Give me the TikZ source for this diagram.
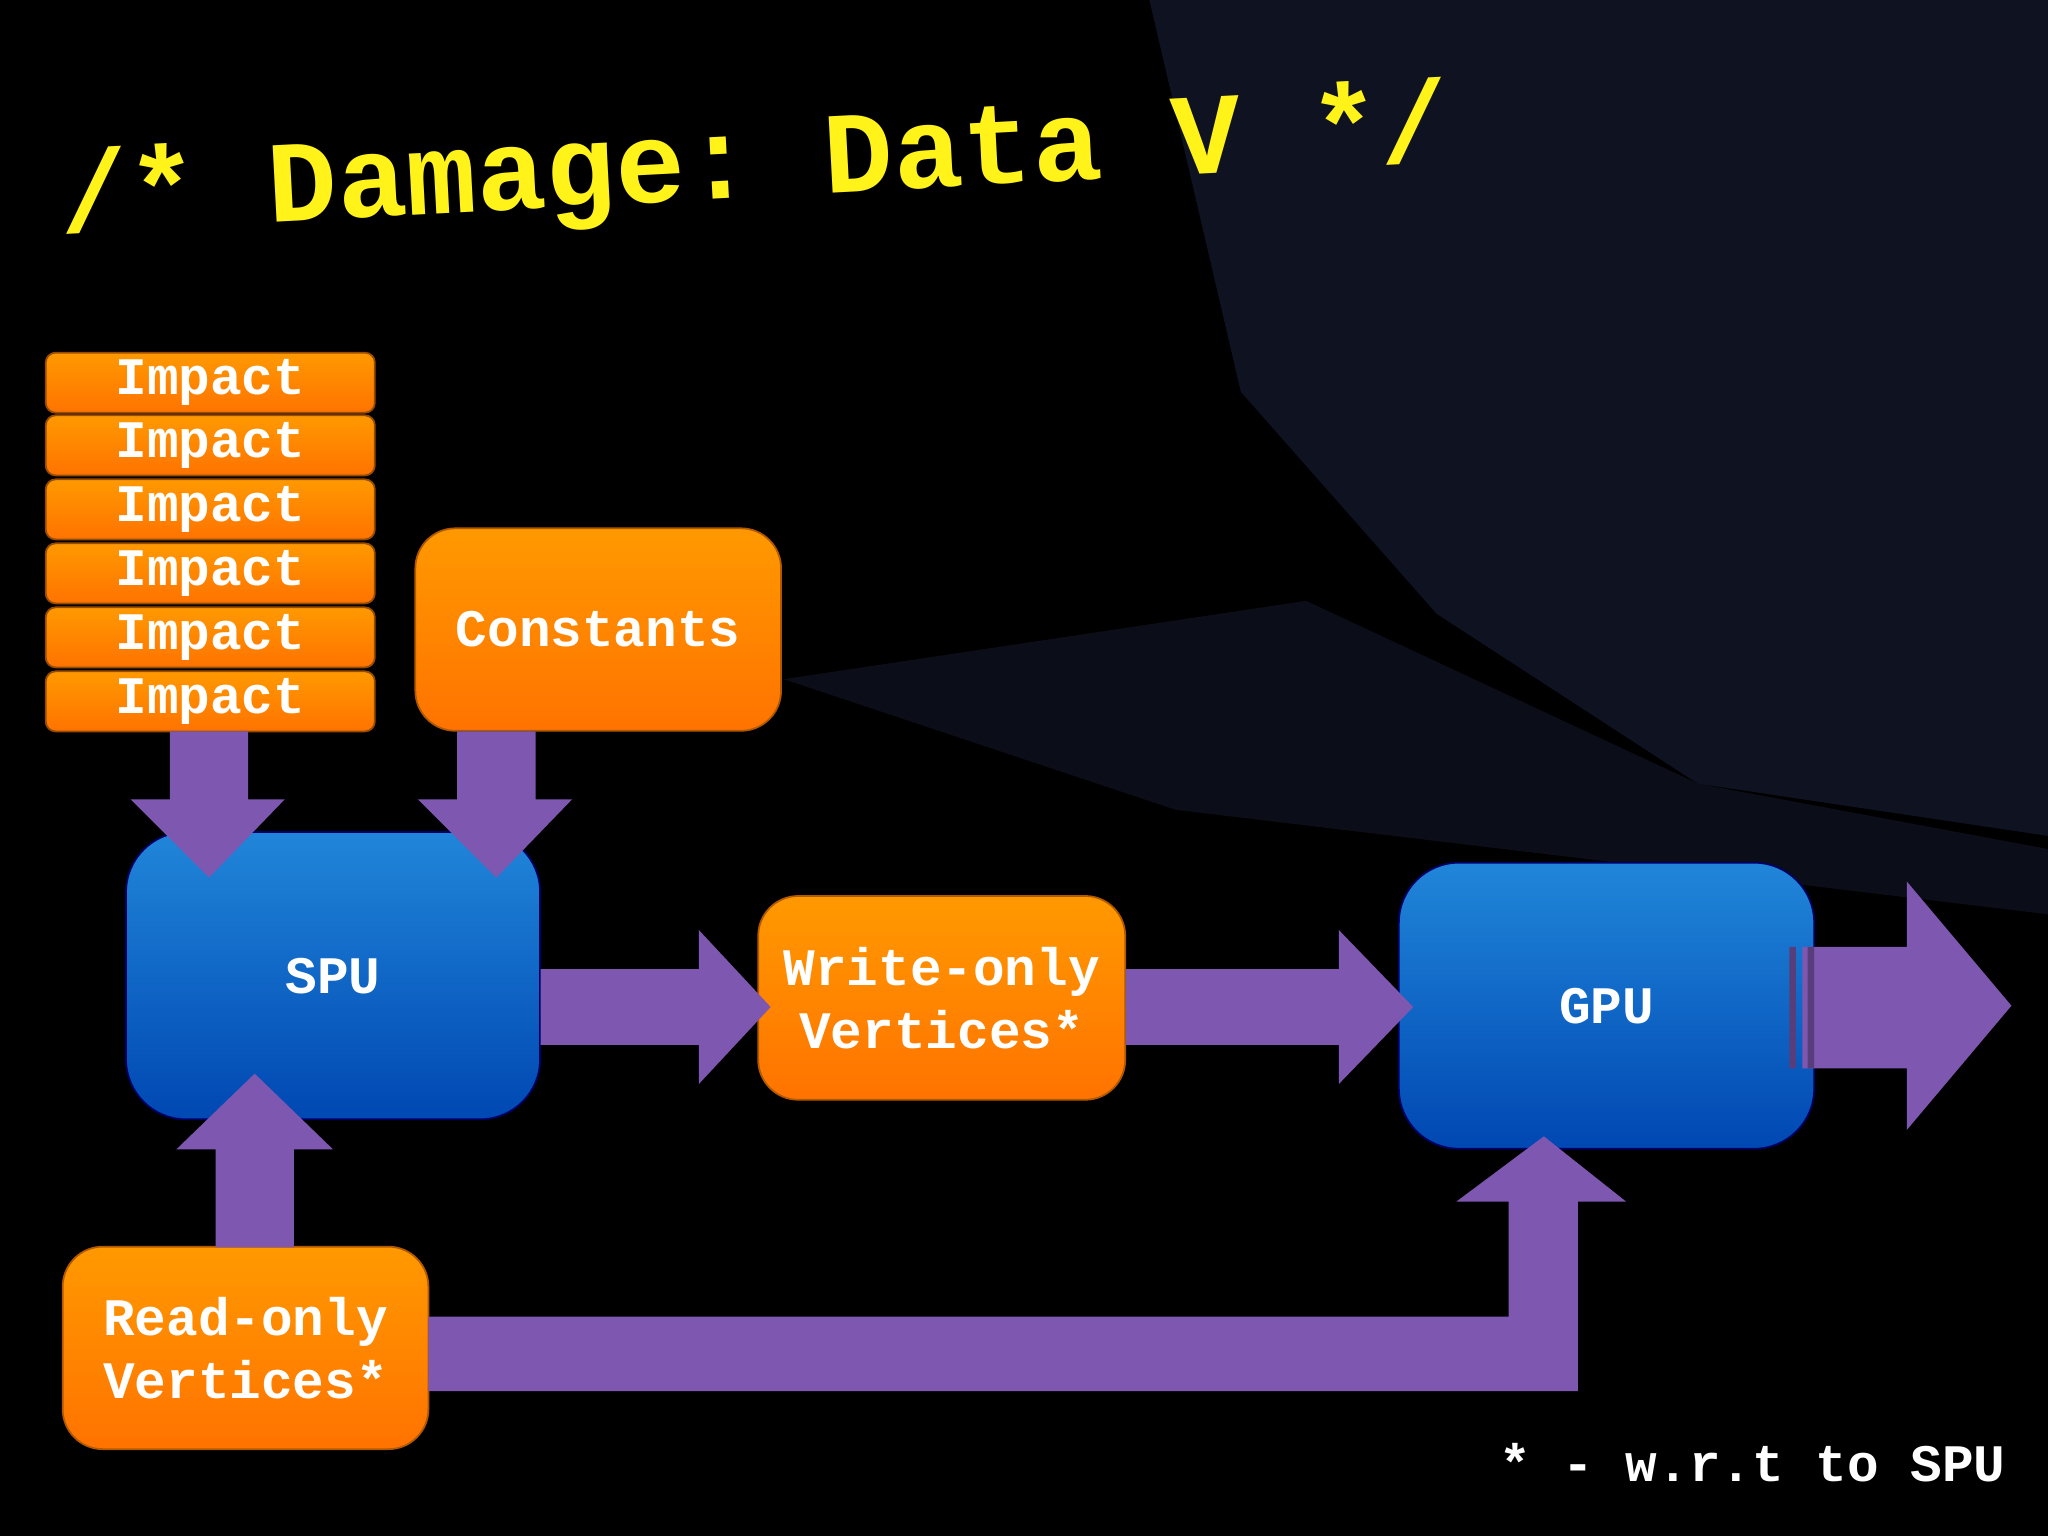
\documentclass[tikz,border=0pt]{standalone}
\usepackage{fontspec}
\setmonofont{Liberation Mono}
\definecolor{arrc}{RGB}{126,87,176}
\definecolor{bgc}{RGB}{22,26,48}
\def\U{*0.01306cm}
\begin{document}
\begin{tikzpicture}[x=0.01306cm,y=-0.01306cm,
  lbl/.style={font=\ttfamily\bfseries\fontsize{15}{18}\selectfont,text=white,align=center},
  obox/.style={lbl,rounded corners=4mm,top color=orange!80!yellow,bottom color=orange!90!red,draw=orange!70!black,line width=0.5pt},
  ibox/.style={lbl,rounded corners=1mm,top color=orange!80!yellow,bottom color=orange!90!red,draw=orange!60!black,line width=0.5pt,inner sep=0pt},
  bbox/.style={lbl,rounded corners=6mm,top color=blue!45!cyan!85!white!85!black,bottom color=blue!60!cyan!70!black,draw=blue!40!black,line width=0.5pt},
  arr/.style={fill=arrc}]
\fill[black] (0,0) rectangle (1568,1176);
\fill[bgc,opacity=0.7] (880,0) -- (1568,0) -- (1568,640) -- (1300,600) -- (1100,470) -- (950,300) -- cycle;
\fill[bgc,opacity=0.5] (600,520) -- (1000,460) -- (1300,600) -- (1568,650) -- (1568,700) -- (900,620) -- cycle;
\useasboundingbox (0,0) rectangle (1568,1176);
% title
\node[rotate=3,text=yellow!90!white,font=\ttfamily\bfseries\fontsize{33}{36}\selectfont,anchor=center] (title) at (578,128) {/* Damage: Data V */};
% boxes
\foreach \i/\y in {1/293,2/341,3/390,4/439,5/488,6/537}
  \node[ibox,minimum width=252\U,minimum height=46\U] (imp\i) at (161,\y) {Impact};
\node[obox,minimum width=280\U,minimum height=155\U] (const) at (458,482) {Constants};
\node[bbox,minimum width=317\U,minimum height=220\U] (spu) at (255,747) {SPU};
\node[obox,minimum width=281\U,minimum height=156\U] (wo) at (721,764) {Write-only\\Vertices*};
\node[bbox,minimum width=318\U,minimum height=219\U] (gpu) at (1230,770) {GPU};
\node[obox,minimum width=280\U,minimum height=155\U] (ro) at (188,1032) {Read-only\\Vertices*};
\node[lbl,anchor=east] (note) at (1545,1120) {* - w.r.t to SPU};
% arrows
\fill[arr] (130,560) -- (190,560) -- (190,612) -- (218,612) -- (160,672) -- (100,612) -- (130,612) -- cycle;
\fill[arr] (350,560) -- (410,560) -- (410,612) -- (438,612) -- (380,672) -- (320,612) -- (350,612) -- cycle;
\fill[arr] (414,742) -- (535,742) -- (535,712) -- (590,771) -- (535,830) -- (535,800) -- (414,800) -- cycle;
\fill[arr] (862,742) -- (1025,742) -- (1025,712) -- (1082,771) -- (1025,830) -- (1025,800) -- (862,800) -- cycle;
\fill[arr] (1380,725) -- (1460,725) -- (1460,675) -- (1540,770) -- (1460,865) -- (1460,818) -- (1380,818) -- cycle;
\fill[arrc!70!black] (1370,725) rectangle (1375,818) (1384,725) rectangle (1389,818);
\fill[arr] (165,955) -- (165,880) -- (135,880) -- (195,822) -- (255,880) -- (225,880) -- (225,955) -- cycle;
\fill[arr] (328,1008) -- (1155,1008) -- (1155,920) -- (1115,920) -- (1182,870) -- (1245,920) -- (1208,920) -- (1208,1065) -- (328,1065) -- cycle;
\end{tikzpicture}
\end{document}
